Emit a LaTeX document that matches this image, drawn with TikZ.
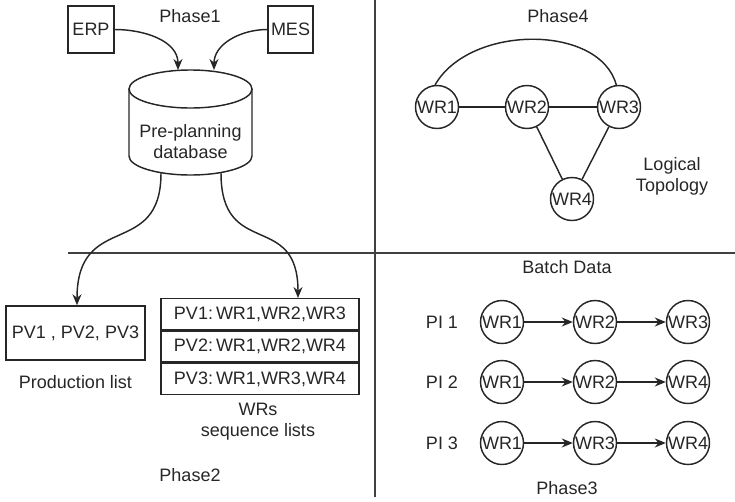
\documentclass[tikz,border=0pt]{standalone}
\usepackage{fontspec}
\setmainfont{Liberation Sans}
\usetikzlibrary{arrows.meta}
\begin{document}
\begin{tikzpicture}[x=1pt,y=-1pt,
  every node/.style={font=\fontsize{18}{21}\selectfont, text=black!85},
  ln/.style={line width=1.45pt, draw=black!85},
  sbox/.style={ln, rectangle, inner sep=0pt},
  wr/.style={ln, circle, inner sep=0pt, minimum size=43pt},
  arr/.style={ln, -{Stealth[length=11pt,width=9pt]}},
  lbl/.style={align=center, inner sep=0pt}
]
\useasboundingbox (0,0) rectangle (735,501);
% dividers
\coordinate (hl) at (68,253);
\coordinate (hr) at (735,253);
\coordinate (vt) at (375,0);
\coordinate (vb) at (375,497);
\draw[line width=1.6pt, draw=black!75] (hl) -- (hr);
\draw[line width=1.6pt, draw=black!75] (vt) -- (vb);

% Phase 1
\node[lbl] (ph1) at (190,16) {Phase1};
\node[sbox, minimum width=46pt, minimum height=47pt] (erp) at (91,29.5) {ERP};
\node[sbox, minimum width=45pt, minimum height=47pt] (mes) at (290.5,29.5) {MES};
% cylinder
\draw[ln] (129,89) -- (129,156) arc[start angle=180, end angle=0, x radius=61.5, y radius=19] -- (252,89);
\draw[ln] (190.5,89) ellipse[x radius=61.5, y radius=19];
\node[lbl] (db) at (190.5,142) {Pre-planning\\database};
\coordinate (dbt1) at (178,70);
\coordinate (dbt2) at (214,70);
\coordinate (dbb1) at (161,173);
\coordinate (dbb2) at (221,173);
\draw[arr] (erp.east) to[out=0,in=90] (dbt1);
\draw[arr] (mes.west) to[out=180,in=90] (dbt2);

% Phase 2
\node[sbox, minimum width=139pt, minimum height=54pt] (plist) at (75.5,333) {PV1 , PV2, PV3};
\node[lbl] (plbl) at (75.5,382) {Production list};
\node[sbox, minimum width=198pt, minimum height=31pt, anchor=north] (s1) at (260,298) {PV1:\,WR1,WR2,WR3};
\node[sbox, minimum width=198pt, minimum height=31pt, anchor=north] (s2) at (s1.south) {PV2:\,WR1,WR2,WR4};
\node[sbox, minimum width=198pt, minimum height=31pt, anchor=north] (s3) at (s2.south) {PV3:\,WR1,WR3,WR4};
\node[lbl] (slbl) at (258,422) {WRs\\sequence lists};
\node[lbl] (ph2) at (190,475) {Phase2};
\draw[arr] (dbb1) .. controls (161,260) and (77,210) .. (plist.north -| 77,0);
\draw[arr] (dbb2) .. controls (221,260) and (298,210) .. (s1.north -| 298,0);

% Phase 4
\node[lbl] (ph4) at (558,16) {Phase4};
\node[wr] (t1) at (437,107) {WR1};
\node[wr] (t2) at (527,107) {WR2};
\node[wr] (t3) at (619,107) {WR3};
\node[wr] (t4) at (572,199) {WR4};
\draw[ln] (t1) -- (t2);
\draw[ln] (t2) -- (t3);
\draw[ln] (t2) -- (t4);
\draw[ln] (t3) -- (t4);
\draw[ln] (t1.95) .. controls (470,24) and (600,24) .. (t3.97);
\node[lbl] (topo) at (672,176) {Logical\\Topology};

% Phase 3
\node[lbl] (bd) at (567,267) {Batch Data};
\node[lbl] (pi1) at (442,322) {PI 1};
\node[lbl] (pi2) at (442,382) {PI 2};
\node[lbl] (pi3) at (442,443) {PI 3};
\node[wr] (a1) at (502,322) {WR1};
\node[wr] (a2) at (595,322) {WR2};
\node[wr] (a3) at (688,322) {WR3};
\node[wr] (b1) at (502,382) {WR1};
\node[wr] (b2) at (595,382) {WR2};
\node[wr] (b3) at (688,382) {WR4};
\node[wr] (c1) at (502,443) {WR1};
\node[wr] (c2) at (595,443) {WR3};
\node[wr] (c3) at (688,443) {WR4};
\draw[arr] (a1) -- (a2);
\draw[arr] (a2) -- (a3);
\draw[arr] (b1) -- (b2);
\draw[arr] (b2) -- (b3);
\draw[arr] (c1) -- (c2);
\draw[arr] (c2) -- (c3);
\node[lbl] (ph3) at (567,488) {Phase3};
\end{tikzpicture}
\end{document}
